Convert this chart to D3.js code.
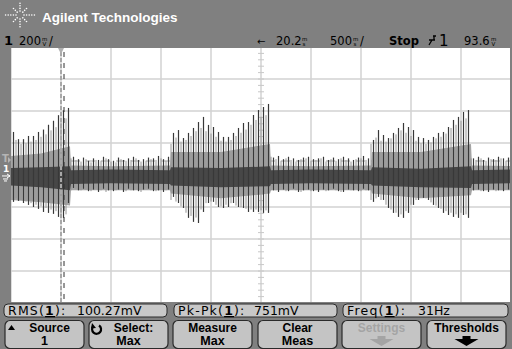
<!DOCTYPE html>
<html>
<head>
<meta charset="utf-8">
<script src="https://cdn.jsdelivr.net/npm/d3@7"></script>
<style>
  html, body { margin: 0; padding: 0; background: #808080; }
  svg { display: block; }
</style>
</head>
<body>
<svg id="scope" width="512" height="349"></svg>
<script>
// screen readings
const voltsPerDiv = 200;      // mV
const timePerDiv = 500;       // ms
const delayText = "20.2";
const trigLevel = 93.6;       // mV
const measLabels = ["RMS(", "Pk-Pk(", "Freq("];
const measValues = ["100.27mV", "751mV", "31Hz"];
const keyLine1 = ["Source", "Select:", "Measure", "Clear", "Settings", "Thresholds"];
const keyLine2 = ["1", "Max", "Max", "Meas", "", ""];

// peaks of each spike (mV), dark trace and the lighter one between them
const darkHi = [275,230,230,250,250,275,290,320,345,380,410,425,
  120,105,115,95,110,100,120,105,95,115,100,110,120,100,105,115,110,125,105,120,
  269,287,237,269,300,337,369,319,306,275,244,244,269,300,331,337,381,412,431,450,
  115,125,105,120,110,100,115,120,105,110,120,100,115,105,120,110,100,115,125,110,
  225,287,256,237,269,300,331,306,287,244,237,225,244,269,275,306,350,369,400,412,
  110,120,100,115,105,120,110,115];
const darkLo = [-162,-156,-169,-181,-194,-206,-225,-231,-237,-256,-262,-169,
  -75,-90,-80,-95,-85,-100,-80,-90,-95,-85,-100,-80,-90,-95,-85,-80,-95,-90,-100,-85,
  -131,-169,-200,-262,-287,-294,-225,-169,-162,-194,-200,-194,-169,-194,-200,-225,-225,-225,-231,-231,
  -90,-100,-85,-95,-80,-100,-90,-85,-95,-100,-85,-90,-80,-95,-100,-85,-90,-95,-80,-90,
  -162,-131,-150,-200,-231,-256,-262,-231,-181,-150,-137,-150,-181,-200,-231,-244,-256,-262,-244,-262,
  -90,-85,-95,-100,-85,-90,-95,-85];
const lightHi = [225,200,205,215,225,245,260,285,305,335,360,110,
  100,90,105,85,100,95,110,90,85,105,95,100,110,90,95,105,100,110,95,200,
  240,215,225,250,280,300,280,265,245,220,215,225,250,270,290,320,350,370,380,120,
  105,95,110,100,90,105,110,95,100,110,90,105,95,110,100,90,105,110,100,200,
  240,220,215,235,260,285,270,250,220,205,200,210,235,245,265,300,320,345,360,110,
  100,110,95,105,100,110,95,105];
const lightLo = [-140,-150,-160,-170,-180,-190,-200,-210,-220,-235,-240,-90,
  -80,-90,-85,-95,-80,-90,-100,-85,-90,-80,-95,-90,-85,-100,-80,-90,-95,-85,-90,-150,
  -160,-190,-230,-250,-260,-210,-170,-160,-180,-190,-180,-170,-185,-195,-205,-210,-210,-215,-215,-90,
  -90,-85,-95,-80,-90,-100,-85,-95,-90,-80,-95,-85,-90,-100,-85,-90,-80,-95,-90,-150,
  -140,-150,-180,-210,-230,-240,-220,-180,-150,-135,-140,-165,-185,-205,-220,-230,-240,-230,-240,-90,
  -85,-95,-90,-80,-95,-90,-85,-95];

// noise bands around ground (ms, mV)
const bandTimes   = [0, 300, 590, 600, 1000, 1590, 1600, 2100, 2590, 2600, 3000, 3600, 3610, 4100, 4600, 4610, 5000];
const lightBandHi = [125, 140, 185, 65, 60, 65, 150, 150, 200, 65, 60, 65, 150, 150, 200, 65, 62];
const lightBandLo = [-150, -165, -185, -90, -90, -90, -110, -140, -110, -90, -90, -90, -110, -140, -120, -90, -90];
const darkBandHi  = [50, 55, 60, 35, 40, 35, 55, 50, 60, 35, 40, 35, 55, 45, 60, 35, 40];
const darkBandLo  = [-60, -70, -90, -50, -45, -50, -60, -70, -65, -50, -45, -50, -60, -70, -75, -50, -45];

const trigTime = 500, cursorTime = 530;

let svg = d3.select("#scope");
svg.append("rect").attr("width", 512).attr("height", 349).attr("fill", "#808080");

// screen is 10 x 8 divisions
let x = d3.scaleLinear().domain([0, 10 * timePerDiv]).range([11, 511]);
let y = d3.scaleLinear().domain([-794, 806]).range([303, 47]);
let divY = d3.scaleLinear().domain([-4, 4]).range([303, 47]);
let sx = d3.scaleBand().domain(d3.range(darkHi.length)).range([11, 511]);

svg.append("defs").append("clipPath").attr("id", "plot")
    .append("rect").attr("x", 11).attr("y", 48).attr("width", 499).attr("height", 254);

svg.append("rect").attr("x", 11).attr("y", 48).attr("width", 499).attr("height", 254).attr("fill", "#fff");

let plot = svg.append("g").attr("clip-path", "url(#plot)");

// grid
plot.selectAll(".vg").data(d3.range(0, 11)).enter().append("line")
    .attr("x1", d => x(d * timePerDiv)).attr("x2", d => x(d * timePerDiv))
    .attr("y1", 47).attr("y2", 303)
    .attr("stroke", "#d2d2d2").attr("stroke-width", 1.5);
plot.selectAll(".hg").data(d3.range(-4, 5)).enter().append("line")
    .attr("y1", d => divY(d)).attr("y2", d => divY(d))
    .attr("x1", 11).attr("x2", 511)
    .attr("stroke", "#d2d2d2").attr("stroke-width", 1.5);

// minor ticks on the centre axes
plot.selectAll(".mty").data(d3.range(-4, 4.01, 0.2)).enter().append("line")
    .attr("x1", 258).attr("x2", 264)
    .attr("y1", d => divY(d)).attr("y2", d => divY(d))
    .attr("stroke", "#c8c8c8");
plot.selectAll(".mtx").data(d3.range(0, 10.01, 0.2)).enter().append("line")
    .attr("y1", divY(0) - 3).attr("y2", divY(0) + 3)
    .attr("x1", d => x(d * timePerDiv)).attr("x2", d => x(d * timePerDiv))
    .attr("stroke", "#c8c8c8");

// trigger level
plot.append("line")
    .attr("x1", 11).attr("x2", 511)
    .attr("y1", y(trigLevel)).attr("y2", y(trigLevel))
    .attr("stroke", "#c4c4c4").attr("stroke-width", 1.5)
    .attr("stroke-dasharray", "9,6");

let bands = bandTimes.map((t, i) => ({t: t, lh: lightBandHi[i], ll: lightBandLo[i], dh: darkBandHi[i], dl: darkBandLo[i]}));

plot.append("path").datum(bands)
    .attr("fill", "#a4a4a4")
    .attr("d", d3.area().x(d => x(d.t)).y0(d => y(d.ll)).y1(d => y(d.lh)));

let bw = sx.bandwidth();
plot.selectAll(".ls").data(lightHi).enter().append("line")
    .attr("x1", (d, i) => sx(i) + bw).attr("x2", (d, i) => sx(i) + bw)
    .attr("y1", (d, i) => y(lightLo[i])).attr("y2", d => y(d))
    .attr("stroke", "#949494").attr("stroke-width", 1);

plot.append("path").datum(bands)
    .attr("fill", "#474747")
    .attr("d", d3.area().x(d => x(d.t)).y0(d => y(d.dl)).y1(d => y(d.dh)));

plot.selectAll(".ds").data(darkHi).enter().append("line")
    .attr("x1", (d, i) => sx(i) + bw / 2).attr("x2", (d, i) => sx(i) + bw / 2)
    .attr("y1", (d, i) => y(darkLo[i])).attr("y2", d => y(d))
    .attr("stroke", "#383838").attr("stroke-width", 1.2);

// trigger point and cursor
plot.append("line")
    .attr("x1", x(trigTime)).attr("x2", x(trigTime)).attr("y1", 52).attr("y2", 302)
    .attr("stroke", "#a8a8a8").attr("stroke-width", 2).attr("stroke-dasharray", "4,2");
plot.append("line")
    .attr("x1", x(cursorTime)).attr("x2", x(cursorTime)).attr("y1", 52).attr("y2", 302)
    .attr("stroke", "#303030").attr("stroke-width", 1).attr("stroke-dasharray", "5,6");
svg.append("path")
    .attr("d", `M${x(trigTime) - 3},48 L${x(trigTime) + 3},48 L${x(trigTime)},54 Z`)
    .attr("fill", "#b0b0b0");

// left strip markers
svg.append("text").attr("x", 2).attr("y", y(trigLevel) + 1)
    .attr("font-family", "DejaVu Sans").attr("font-size", 10).attr("font-weight", "bold")
    .attr("fill", "#b4b4b4").text("T");
svg.append("path").attr("d", `M8,${y(trigLevel) - 4} L11,${y(trigLevel) - 1} L8,${y(trigLevel) + 2} Z`).attr("fill", "#b4b4b4");
svg.append("text").attr("x", 3).attr("y", y(0) - 4)
    .attr("font-family", "DejaVu Sans").attr("font-size", 9).attr("font-weight", "bold")
    .attr("fill", "#fff").text("1");
svg.append("path").attr("d", `M2,${y(0)} L10,${y(0)} M7,${y(0) - 2} L10,${y(0)} L7,${y(0) + 2} M3,${y(0) + 3} L8,${y(0) + 3} M4,${y(0) + 5} L7,${y(0) + 5}`)
    .attr("stroke", "#fff").attr("fill", "none");

// header
let logo = svg.append("g").attr("transform", "translate(20,15)");
d3.range(8).forEach(k => {
    let a = k * Math.PI / 4;
    let len = (k % 4 === 0) ? 16 : (k % 2 === 0 ? 13 : 10);
    for (let r = 4; r <= len; r += 2.6) {
        logo.append("circle").attr("cx", r * Math.cos(a)).attr("cy", r * Math.sin(a))
            .attr("r", 0.8).attr("fill", "#fff");
    }
});
svg.append("text").attr("x", 42).attr("y", 22)
    .attr("font-family", "Liberation Sans").attr("font-weight", "bold").attr("font-size", 13.5)
    .attr("fill", "#fff").text("Agilent Technologies");

// tiny stacked unit, e.g. m over V
function unit(x0, yb, top, bottom) {
    let t = svg.append("text").attr("x", x0).attr("y", yb - 4)
        .attr("font-family", "DejaVu Sans").attr("font-size", 5.5).attr("fill", "#000");
    t.append("tspan").text(top);
    t.append("tspan").attr("x", x0 + 0.5).attr("dy", 5).text(bottom);
}
function hdr(x0, yb, str, bold, size) {
    return svg.append("text").attr("x", x0).attr("y", yb)
        .attr("font-family", "DejaVu Sans").attr("font-size", size || 11.5)
        .attr("font-weight", bold ? "bold" : "normal").attr("fill", "#000").text(str);
}
hdr(4, 45, "1", true, 13);
hdr(19, 45, voltsPerDiv);
unit(42, 45, "m", "V");
hdr(49, 45, "/");
hdr(257, 45, "\u2190", false, 10);
hdr(276, 45, delayText);
unit(302, 45, "m", "s");
hdr(330, 45, timePerDiv);
unit(353, 45, "m", "s");
hdr(360, 45, "/");
hdr(389, 45, "Stop", true, 11.5);
svg.append("path").attr("d", "M429,45 L432,40 L434,40 L434,36 M429,40 L435,40 M433,36 L436,36")
    .attr("stroke", "#000").attr("stroke-width", 1.3).attr("fill", "none");
hdr(439, 46, "1", false, 15);
hdr(464, 45, trigLevel);
unit(491, 45, "m", "V");

// measurement bar
let meas = svg.append("g");
[[4, 167], [174, 337], [343, 508]].forEach((b, i) => {
    meas.append("rect").attr("x", b[0]).attr("y", 304).attr("width", b[1] - b[0]).attr("height", 13)
        .attr("rx", 4).attr("fill", "#c8c8c8").attr("stroke", "#2a2a2a").attr("stroke-width", 1);
    let t = meas.append("text").attr("x", b[0] + 4).attr("y", 315)
        .attr("font-family", "DejaVu Sans").attr("font-size", 12.5).attr("letter-spacing", 1.2).attr("fill", "#000");
    t.append("tspan").text(measLabels[i]);
    t.append("tspan").attr("font-weight", "bold").attr("text-decoration", "underline").text("1");
    t.append("tspan").text("):");
    meas.append("text").attr("x", [77, 254, 418][i]).attr("y", 315)
        .attr("font-family", "DejaVu Sans").attr("font-size", 12.5).attr("fill", "#000")
        .text(measValues[i]);
});

// softkeys
let keys = svg.append("g");
let keyX = [5, 89, 173, 258, 342, 427];
keyX.forEach((kx, i) => {
    keys.append("rect").attr("x", kx).attr("y", 320.5).attr("width", 79).attr("height", 28)
        .attr("rx", 5).attr("fill", "#c4c4c4").attr("stroke", "#2a2a2a").attr("stroke-width", 1.2);
    let dim = i === 4 ? "#a4a4a4" : "#000";
    let cx = kx + 39.5;
    let shift = i === 0 ? 5 : (i === 1 ? 5 : 0);
    keys.append("text").attr("x", cx + shift).attr("y", 332).attr("text-anchor", "middle")
        .attr("font-family", "Liberation Sans").attr("font-weight", "bold").attr("font-size", 12)
        .attr("fill", dim).text(keyLine1[i]);
    if (keyLine2[i]) {
        keys.append("text").attr("x", cx).attr("y", 345).attr("text-anchor", "middle")
            .attr("font-family", "Liberation Sans").attr("font-weight", "bold").attr("font-size", 12.5)
            .attr("fill", dim).text(keyLine2[i]);
    } else {
        keys.append("path")
            .attr("d", `M${cx - 4},336 L${cx + 4},336 L${cx + 4},339 L${cx + 12},339 L${cx},346 L${cx - 12},339 L${cx - 4},339 Z`)
            .attr("fill", i === 4 ? "#a4a4a4" : "#000");
    }
});
keys.append("path").attr("d", "M8,330 L11.5,325 L15,330 Z").attr("fill", "#000");
keys.append("path").attr("d", "M93.5,326 A4.5,4.5 0 1 0 99,325.5")
    .attr("stroke", "#000").attr("stroke-width", 2.2).attr("fill", "none");
keys.append("path").attr("d", "M92,323 L96,328 L91,328.5 Z").attr("fill", "#000");
</script>
</body>
</html>
